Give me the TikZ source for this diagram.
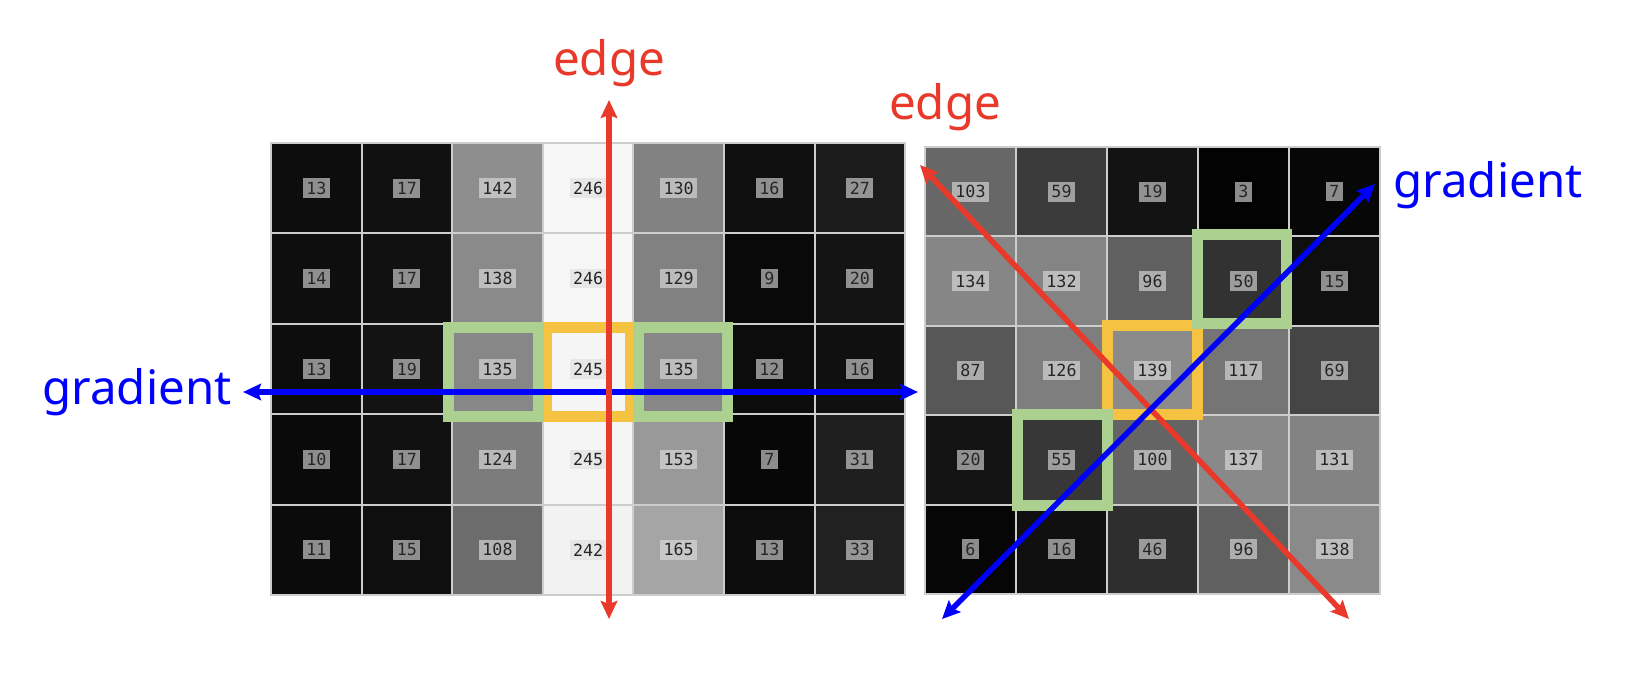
\documentclass[tikz,border=0pt]{standalone}
\usepackage{fontspec}
\setmainfont{Noto Sans}
\newfontfamily\valfont{DejaVu Sans Mono}
\usetikzlibrary{arrows.meta}

\definecolor{edgered}{RGB}{232,57,42}
\definecolor{gradblue}{RGB}{0,0,255}
\definecolor{hlgreen}{RGB}{172,208,144}
\definecolor{hlyellow}{RGB}{245,194,66}
\definecolor{gridline}{RGB}{205,205,205}
\definecolor{valbox}{RGB}{223,223,223}

\begin{document}
\begin{tikzpicture}[
        x=0.02cm, y=-0.02cm,
        cell/.style={
            draw=gridline, line width=0.04cm, outer sep=0pt, inner sep=0pt,
            minimum width=1.812cm, minimum height=1.808cm
        },
        rcell/.style={cell, minimum width=1.82cm, minimum height=1.788cm},
        val/.style={
            fill=valbox, fill opacity=0.62, text opacity=1, text=black!85,
            font=\valfont\fontsize{9.5}{9.5}\selectfont,
            inner xsep=2pt, inner ysep=2pt
        },
        word/.style={font=\fontsize{27}{31}\selectfont, anchor=base},
        hl/.style={line width=0.22cm},
        arr/.style={line width=0.11cm,
            {Stealth[length=0.36cm,width=0.33cm,inset=0.06cm]}-{Stealth[length=0.36cm,width=0.33cm,inset=0.06cm]}}
    ]
    \useasboundingbox (0,0) rectangle (1646,680);

    % left patch
    \foreach \row [count=\r from 0] in {{13,17,142,246,130,16,27},{14,17,138,246,129,9,20},
        {13,19,135,245,135,12,16},{10,17,124,245,153,7,31},{11,15,108,242,165,13,33}}{
      \foreach \v [count=\c from 0] in \row {
        \node[cell, fill={rgb,255:red,\v;green,\v;blue,\v}] (L-\r-\c)
          at ({271+90.6*(\c+0.5)},{143+90.4*(\r+0.5)}) {};
        \node[val] (Lv-\r-\c) at (L-\r-\c) {\v};
      }
    }

    % right patch
    \foreach \row [count=\r from 0] in {{103,59,19,3,7},{134,132,96,50,15},
        {87,126,139,117,69},{20,55,100,137,131},{6,16,46,96,138}}{
      \foreach \v [count=\c from 0] in \row {
        \node[rcell, fill={rgb,255:red,\v;green,\v;blue,\v}] (R-\r-\c)
          at ({925+91*(\c+0.5)},{147+89.4*(\r+0.5)}) {};
        \node[val] (Rv-\r-\c) at (R-\r-\c) {\v};
      }
    }

    % neighbourhoods
    \draw[hl, hlyellow] (546,327) rectangle (630,416.5);
    \draw[hl, hlgreen] (448.5,327) rectangle (538,416.5);
    \draw[hl, hlgreen] (638,327) rectangle (727.5,416.5);
    \draw[hl, hlyellow] (1107.5,325) rectangle (1197.5,414);
    \draw[hl, hlgreen] (1197.5,234.5) rectangle (1286.5,323.5);
    \draw[hl, hlgreen] (1017.5,414) rectangle (1107.5,505);

    \coordinate (eA1) at (609,100);
    \coordinate (eA2) at (609,619);
    \coordinate (gA1) at (243,392);
    \coordinate (gA2) at (918,392);
    \coordinate (eB1) at (920,165);
    \coordinate (eB2) at (1349,619);
    \coordinate (gB1) at (942,619);
    \coordinate (gB2) at (1375,184);

    \draw[arr, gradblue] (gA1) -- (gA2);
    \draw[arr, edgered] (eA1) -- (eA2);
    \draw[arr, edgered] (eB1) -- (eB2);
    \draw[arr, gradblue] (gB1) -- (gB2);

    \node[word, text=edgered] (edgeA) at (609,75) {edge};
    \node[word, text=edgered] (edgeB) at (945,119) {edge};
    \node[word, text=gradblue] (gradA) at (137,404) {gradient};
    \node[word, text=gradblue] (gradB) at (1488,197) {gradient};
\end{tikzpicture}
\end{document}
